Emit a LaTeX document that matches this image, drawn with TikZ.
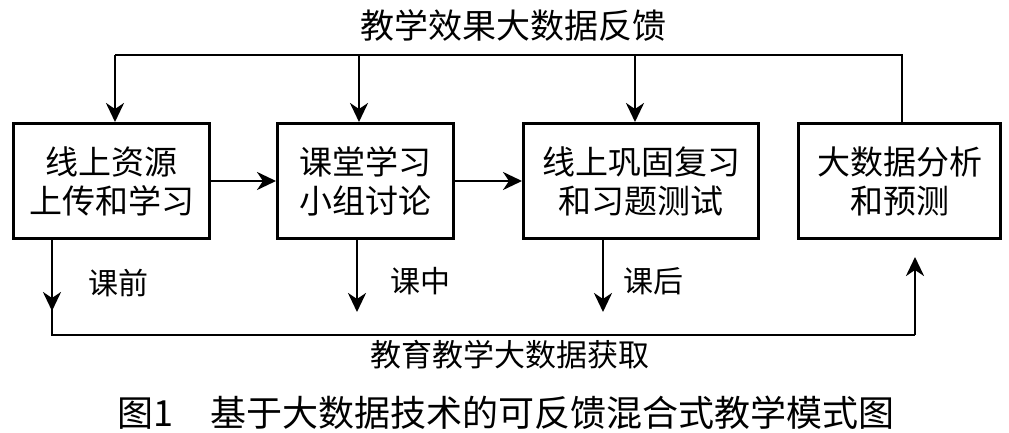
\documentclass[tikz,border=0pt]{standalone}
\usepackage{fontspec}
\newfontfamily\cjk{Noto Sans CJK SC}
\usetikzlibrary{positioning,arrows.meta}

\tikzset{
  stagebox/.style={draw, line width=3pt, minimum height=115pt, align=center,
    font=\cjk\fontsize{33}{39}\selectfont, inner sep=0pt},
  conn/.style={line width=2.8pt},
  arr/.style={conn, -{Stealth[length=19pt,width=18pt,inset=6pt]}},
  lbl/.style={font=\cjk\fontsize{#1}{#1}\selectfont, inner sep=0pt},
}

\begin{document}
\begin{tikzpicture}[x=1pt, y=-1pt]
    \useasboundingbox (0,0) rectangle (1009,433);

    \node[stagebox, minimum width=196pt] (b1) at (111.5,181) {线上资源\\上传和学习};
    \node[stagebox, minimum width=176pt] (b2) at (365.5,181) {课堂学习\\小组讨论};
    \node[stagebox, minimum width=235pt] (b3) at (641,181)   {线上巩固复习\\和习题测试};
    \node[stagebox, minimum width=202pt] (b4) at (899.5,181) {大数据分析\\和预测};

    \draw[arr] (b1.east) -- (b2.west);
    \draw[arr] (b2.east) -- (b3.west);

    % feedback loop on top
    \node[lbl=34] (fbtext) at (513,25) {教学效果大数据反馈};
    \coordinate (fb1) at (115,55);
    \coordinate (fb2) at (359,55);
    \coordinate (fb3) at (635,55);
    \draw[conn] ([xshift=2.5pt]b4.north) |- (fb1);
    \draw[arr] (fb1) -- (fb1 |- b1.north);
    \draw[arr] (fb2) -- (fb2 |- b2.north);
    \draw[arr] (fb3) -- (fb3 |- b3.north);

    % data acquisition below
    \coordinate (g1) at (52,335);
    \coordinate (g4) at (915,335);
    \coordinate (t1) at (52,311);
    \coordinate (t2) at (357,312);
    \coordinate (t3) at (603,312);
    \draw[conn] (g1 |- b1.south) -- (g1) -- (g4);
    \draw[arr] (g1 |- b1.south) -- (t1);
    \draw[arr] (t2 |- b2.south) -- (t2);
    \draw[arr] (t3 |- b3.south) -- (t3);
    \draw[arr] (g4) -- ([yshift=-17pt]g4 |- b4.south);

    \node[lbl=30] (pre)  at (118,283) {课前};
    \node[lbl=30] (mid)  at (420,281) {课中};
    \node[lbl=30] (post) at (653,281) {课后};
    \node[lbl=31] (gettext) at (510,355) {教育教学大数据获取};

    \node[lbl=36] (caption) at (506,413) {图1\hspace{38pt}基于大数据技术的可反馈混合式教学模式图};
\end{tikzpicture}
\end{document}
